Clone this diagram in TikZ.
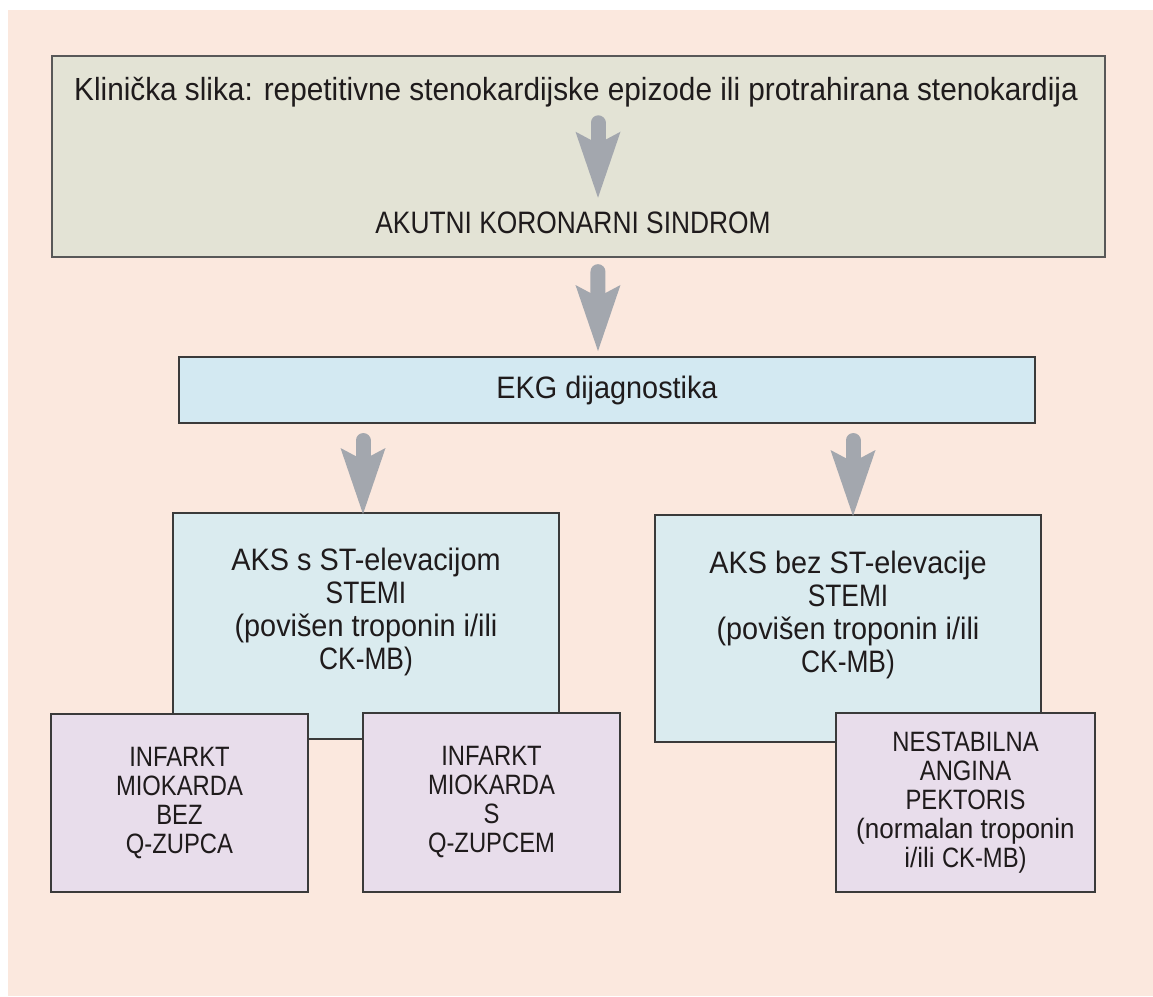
\documentclass[tikz,border=0pt]{standalone}
\usepackage{fontspec}
\setmainfont{Liberation Sans}[FakeStretch=0.93]
\newfontfamily\capsfont{Liberation Sans}[FakeStretch=0.85]
\usetikzlibrary{arrows.meta}
\definecolor{peach}{HTML}{FBE8DE}
\definecolor{sand}{HTML}{E3E3D5}
\definecolor{ekgblue}{HTML}{D3E9F2}
\definecolor{aksblue}{HTML}{DAEBEF}
\definecolor{lilac}{HTML}{E8DDEB}
\definecolor{arrowgray}{HTML}{A3A7AE}
\definecolor{edge}{HTML}{3A3A3A}
\definecolor{ink}{HTML}{1F1B1C}

\begin{document}
\begin{tikzpicture}[x=0.75pt,y=-0.75pt]
\tikzstyle{every node}=[text=ink]
\tikzstyle{box}=[draw=edge,line width=1.5pt,inner sep=0pt]
\tikzstyle{big}=[font=\fontsize{23.25}{24.75}\selectfont,align=center,inner sep=0pt]
\tikzstyle{small}=[font=\fontsize{21}{21.75}\selectfont,align=center,inner sep=0pt]
\tikzstyle{pil}=[arrowgray,line width=11.25pt,line cap=round,-{Stealth[length=49.5pt,width=33.75pt,inset=9pt,line width=0pt]}]

\useasboundingbox (0,0) rectangle (1153,996);
\fill[peach] (8,10) rectangle (1153,996);

% gornji okvir
\node[box,fill=sand,line width=1.8pt,draw=edge!85,minimum width=789.75pt,minimum height=150.75pt] (topbox) at (578.5,156.5) {};
\node[big,font=\fontsize{24}{25}\selectfont,anchor=base,text depth=0pt] (klin) at (576,100) {Klinička slika: repetitivne stenokardijske epizode ili protrahirana stenokardija};
\node[big,anchor=base,text height=16.5pt,text depth=0pt] (akutni) at (573,233) {\capsfont AKUTNI KORONARNI SINDROM};

\node[box,big,fill=ekgblue,minimum width=642pt,minimum height=49.5pt] (ekg) at (607,390) {EKG dijagnostika};

% AKS
\node[box,fill=aksblue,minimum width=289.5pt,minimum height=169.5pt] (stemi) at (366,626) {};
\node[big] (stemitxt) at ([yshift=10.5pt]stemi.center) {AKS s ST-elevacijom\\{\capsfont STEMI}\\(povišen troponin i/ili\\{\capsfont CK-MB)}};
\node[box,fill=aksblue,minimum width=289.5pt,minimum height=170.25pt] (nstemi) at (848,628.5) {};
\node[big] (nstemitxt) at ([yshift=10.5pt]nstemi.center) {AKS bez ST-elevacije\\{\capsfont STEMI}\\(povišen troponin i/ili\\{\capsfont CK-MB)}};

% ishodi
\node[box,small,fill=lilac,minimum width=192.75pt,minimum height=133.5pt] (bezq) at (179.5,803) {\capsfont INFARKT\\\capsfont MIOKARDA\\\capsfont BEZ\\\capsfont Q-ZUPCA};
\node[box,small,fill=lilac,minimum width=192.75pt,minimum height=134.25pt] (saq) at (491.5,802.5) {\capsfont INFARKT\\\capsfont MIOKARDA\\\capsfont S\\\capsfont Q-ZUPCEM};
\node[box,small,fill=lilac,minimum width=194.25pt,minimum height=134.25pt] (nap) at (965.5,802.5) {{\capsfont NESTABILNA}\\{\capsfont ANGINA}\\{\capsfont PEKTORIS}\\(normalan troponin\\i/ili {\capsfont CK-MB)}};

% strelice
\draw[pil,shorten <=16.9pt,shorten >=9.75pt] ([xshift=16.5pt]klin.south) -- ([xshift=18.75pt]akutni.north);
\draw[pil,shorten <=10.1pt,shorten >=3.75pt] ([xshift=14.6pt]topbox.south) -- ([xshift=-6.75pt]ekg.north);
\draw[pil,shorten <=12.4pt,shorten >=-1.5pt] ([xshift=-2.25pt]stemi.north |- ekg.south) -- ([xshift=-2.25pt]stemi.north);
\draw[pil,shorten <=12.4pt,shorten >=-1.5pt] ([xshift=3.75pt]nstemi.north |- ekg.south) -- ([xshift=3.75pt]nstemi.north);
\end{tikzpicture}
\end{document}
